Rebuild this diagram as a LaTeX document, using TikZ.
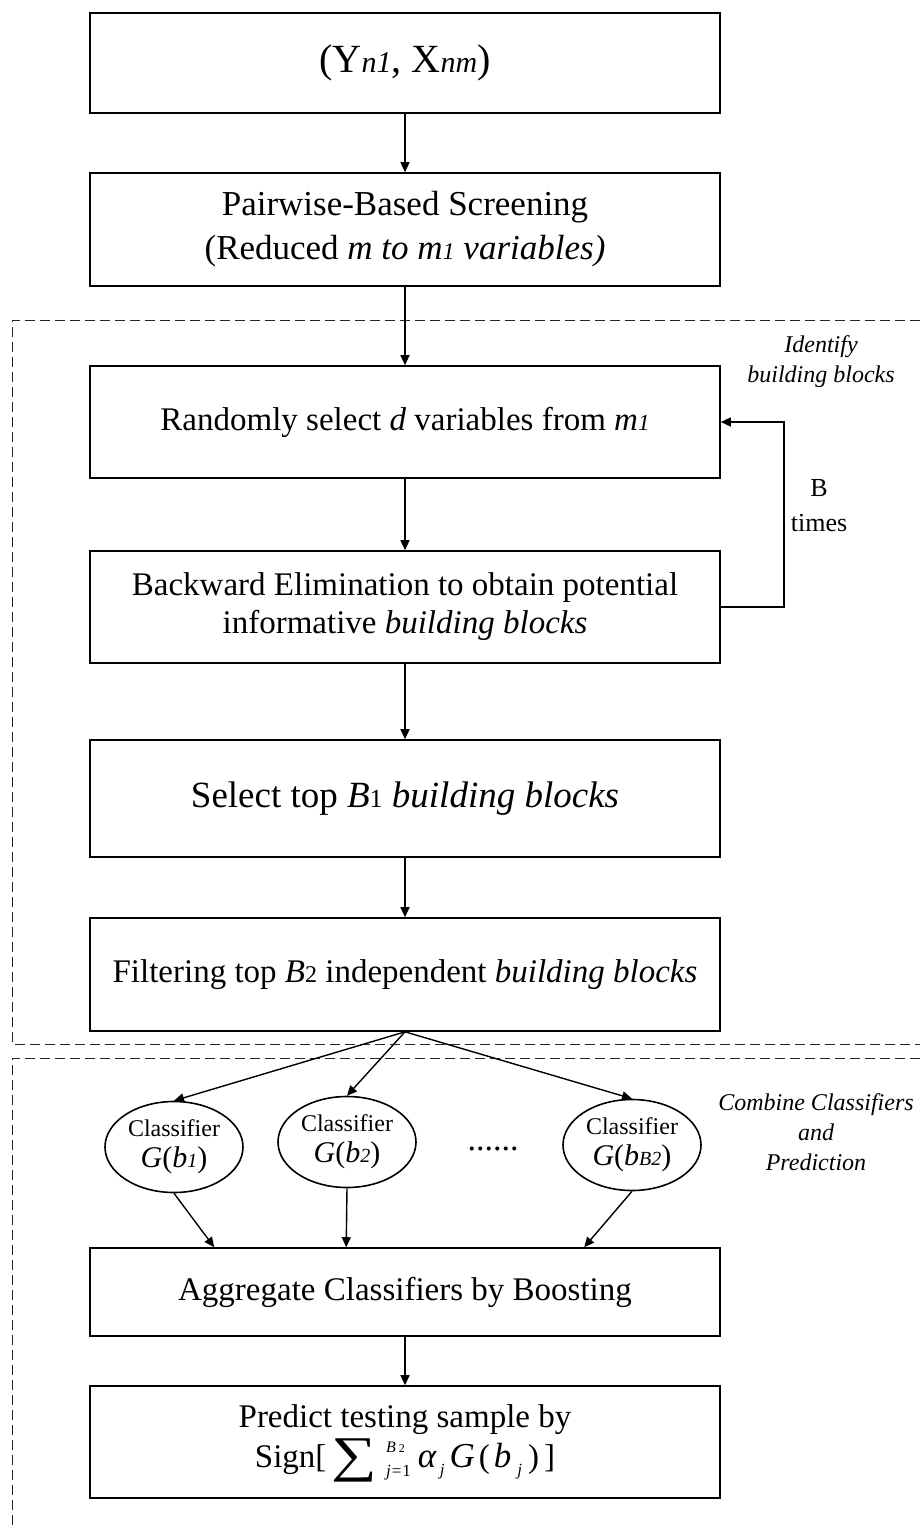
\documentclass[tikz,border=0pt]{standalone}
\usepackage{fontspec}
\usepackage{graphicx}
\setmainfont{Liberation Serif}
\usetikzlibrary{arrows.meta,shapes.geometric}
\newcommand{\fsz}[2]{\fontsize{#1}{#2}\selectfont}
\newcommand{\lw}[2]{{\fontsize{#1}{#1}\selectfont #2}}
\begin{document}
\begin{tikzpicture}[x=1pt,y=-1pt,
  box/.style={draw, line width=1.6pt, minimum width=630pt, inner sep=0pt, align=center, font=\fsz{33}{38}},
  clf/.style={draw, ellipse, line width=1.6pt, minimum width=138pt, minimum height=91pt, inner sep=0pt, align=center, font=\fsz{24}{31}},
  arr/.style={-{Triangle[length=10pt,width=9pt]}, line width=1.4pt},
  region/.style={dashed, dash pattern=on 10pt off 5pt, line width=0.9pt, black!85},
  note/.style={align=center, font=\fsz{24}{30}\itshape, inner sep=0pt}]
\useasboundingbox (0,0) rectangle (920,1526);

% dashed regions
\draw[region] (920,320) -- (12,320) -- (12,1044) -- (920,1044);
\draw[region] (920,1058) -- (12,1058) -- (12,1526);

% boxes
\node[box, minimum height=100pt, font=\fsz{40}{44}] (b1) at (405,63)
  {(Y\lw{30}{\itshape n1}, X\lw{30}{\itshape nm})};
\node[box, minimum height=113pt, font=\fsz{35}{44}] (b2) at (405,229.5)
  {Pairwise-Based Screening\\(Reduced \textit{m to m\lw{24}{1} variables)}};
\node[box, minimum height=112pt] (b3) at (405,422)
  {Randomly select \textit{d} variables from \textit{m\lw{23}{1}}};
\node[box, minimum height=112pt] (b4) at (405,607)
  {Backward Elimination to obtain potential\\informative \textit{building blocks}};
\node[box, minimum height=117pt, font=\fsz{37}{42}] (b5) at (405,798.5)
  {Select top \textit{B}\lw{26}{1} \textit{building blocks}};
\node[box, minimum height=113pt] (b6) at (405,974.5)
  {Filtering top \textit{B}\lw{24}{2} independent \textit{building blocks}};

\node[clf] (e1) at (174,1147) {Classifier\\\lw{30}{\textit{G}(\textit{b}\lw{20}{\itshape 1})}};
\node[clf] (e2) at (347,1142) {Classifier\\\lw{30}{\textit{G}(\textit{b}\lw{20}{\itshape 2})}};
\node[clf] (e3) at (632,1145) {Classifier\\\lw{30}{\textit{G}(\textit{b}\lw{20}{\itshape B2})}};
\node[font=\fsz{34}{34}, inner sep=0pt] (dots) at (493,1149) {......};

\node[box, minimum height=88pt] (b7) at (405,1292) {Aggregate Classifiers by Boosting};
\node[box, minimum height=112pt, font=\fsz{33}{40}] (b8) at (405,1442)
  {Predict testing sample by\\
   Sign[\hspace{5pt}\smash{\raisebox{-4pt}{\scalebox{1.6}[1.25]{\lw{40}{∑}}}}\hspace{9pt}\makebox[0pt][l]{\raisebox{15pt}{\lw{16}{\textit{B}\hspace{3pt}\lw{12}{2}}}}\raisebox{-9pt}{\lw{17}{\textit{j}\hspace{1pt}=\hspace{1pt}1}}\hspace{7pt}\lw{35}{\textit{α}}\hspace{3pt}\raisebox{-8pt}{\lw{17}{\textit{j}}}\hspace{5pt}\lw{35}{\textit{G}}\hspace{4pt}(\hspace{4pt}\lw{35}{\textit{b}}\hspace{6pt}\raisebox{-8pt}{\lw{17}{\textit{j}}}\hspace{6pt})\hspace{5pt}]};

% labels
\node[note] (lid) at (821,362) {Identify\\building blocks};
\node[note] (lcc) at (816,1132) {Combine Classifiers\\and\\Prediction};
\node[align=center, font=\fsz{26}{35}, inner sep=0pt] (lb) at (819,506) {B\\times};

% connectors
\draw[arr] (b1) -- (b2);
\draw[arr] (b2) -- (b3);
\draw[arr] (b3) -- (b4);
\draw[arr] (b4) -- (b5);
\draw[arr] (b5) -- (b6);
\draw[arr] (b4.east) -- ++(63,0) |- (b3.east);
\draw[arr] (b6.south) -- (e1.north);
\draw[arr] (b6.south) -- (e2.north);
\draw[arr] (b6.south) -- (e3.north);
\path (b7.north west) ++(125,0) coordinate (t1);
\path (b7.north west) ++(257,0) coordinate (t2);
\path (b7.north west) ++(495,0) coordinate (t3);
\draw[arr] (e1.south) -- (t1);
\draw[arr] (e2.south) -- (t2);
\draw[arr] (e3.south) -- (t3);
\draw[arr] (b7) -- (b8);
\end{tikzpicture}
\end{document}
